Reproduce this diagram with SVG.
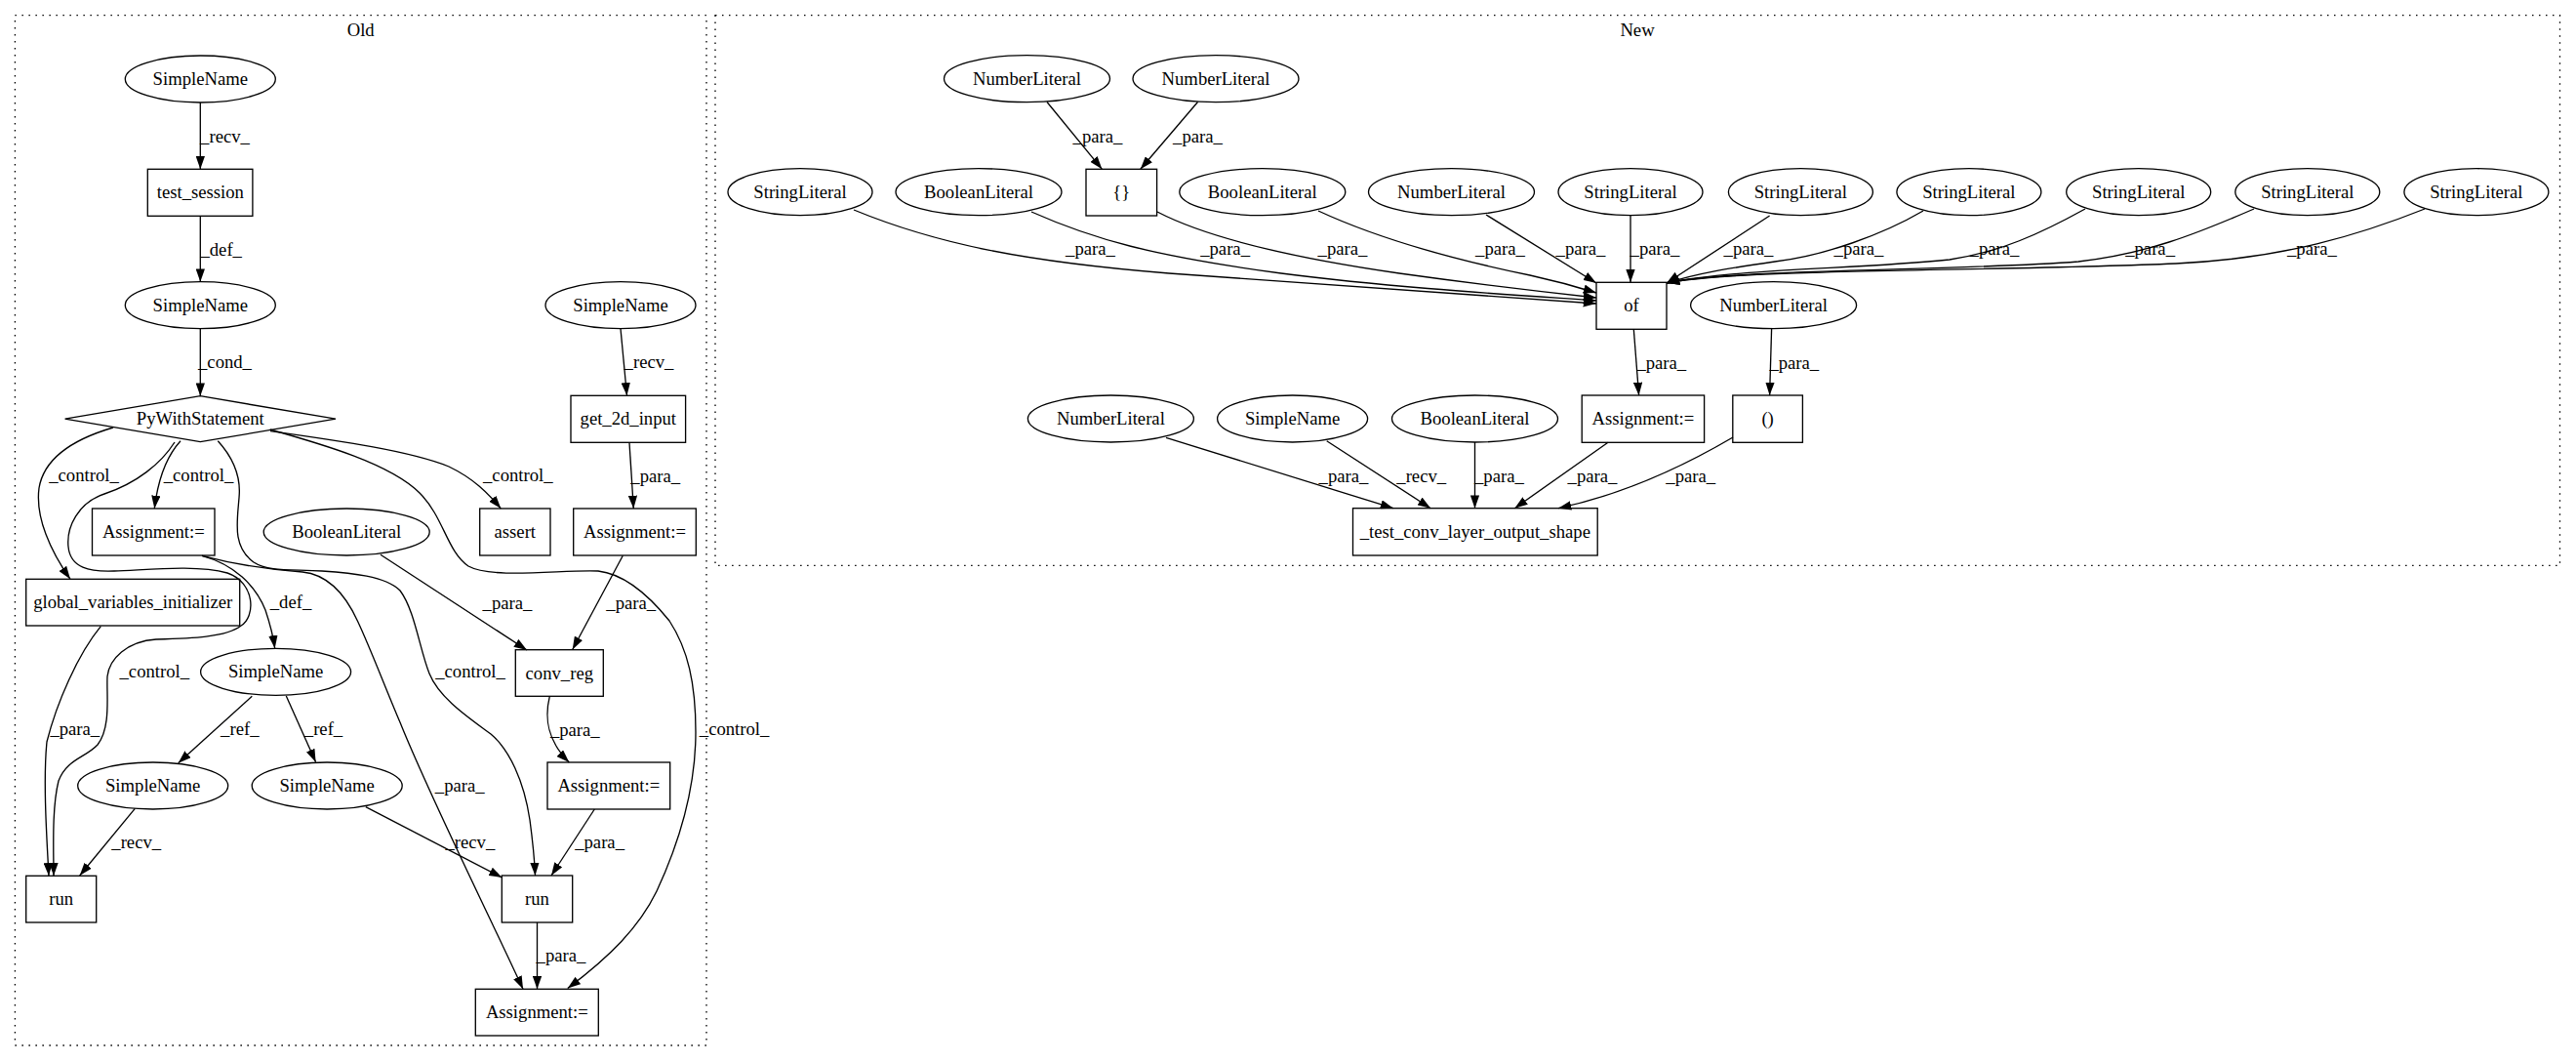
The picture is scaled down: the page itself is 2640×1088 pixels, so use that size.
<svg xmlns="http://www.w3.org/2000/svg" width="2640" height="1088" viewBox="0 0 2640 1088">
<defs>
<marker id="ah" viewBox="0 0 10 7" refX="10" refY="3.5" markerWidth="13.3" markerHeight="9.3" markerUnits="userSpaceOnUse" orient="auto">
<path d="M0,0 L10,3.5 L0,7 z" fill="#000"/>
</marker>
<style>
text{font-family:"Liberation Serif","Times New Roman",serif;font-size:18.67px;fill:#000;text-anchor:middle}
.n ellipse,.n rect,.n polygon{fill:none;stroke:#000;stroke-width:1.33}
.cl{fill:none;stroke:#000;stroke-width:1.33;stroke-dasharray:1.5,5.5}
#edges path{fill:none;stroke:#000;stroke-width:1.33;marker-end:url(#ah)}
</style>
</defs>
<rect width="2640" height="1088" fill="#fff"/>
<g id="cluster_old">
<rect class="cl" x="15.4" y="15.7" width="708.6" height="1055.3"/>
<text x="369.7" y="37">Old</text>
</g>
<g id="cluster_new">
<rect class="cl" x="733" y="15.7" width="1890.5" height="563.6"/>
<text x="1678" y="37">New</text>
</g>
<g id="edges">
<path d="M205.3,105 L205.3,173.3"/><text x="230.5" y="146">_recv_</text>
<path d="M205.3,221.3 L205.3,288.7"/><text x="226.7" y="262">_def_</text>
<path d="M205.3,336.7 L205.3,405.7"/><text x="230.5" y="376.7">_cond_</text>
<path d="M636,336.7 L642.5,405.3"/><text x="665" y="376.7">_recv_</text>
<path d="M645,453.3 L649.3,521"/><text x="671.7" y="494.3">_para_</text>
<path d="M116,438 C75,450 45,470 40,500 C36,530 52,565 72,593.3"/><text x="86" y="492.7">_control_</text>
<path d="M185,451.7 C172,466 162,490 158.3,521"/><text x="203.5" y="492.7">_control_</text>
<path d="M277,441.7 C350,452 420,462 460,478 C485,490 500,505 513.3,521"/><text x="530.8" y="492.7">_control_</text>
<path d="M179,453 C165,475 140,495 107,506 C80,515 68,540 70,560 C72,582 92,586 117,585 C150,584 200,578 233,587 C262,597 262,632 247,641 C232,653 195,654 160,655 C130,657 112,675 110,693 C109,712 114,745 100,763 C88,776 68,778 60,800 C53,828 55,870 55,897.3"/><text x="158.3" y="694.3">_control_</text>
<path d="M223.3,451.7 C240,470 247,490 245,510 C243,535 238,560 260,576 C275,586 300,583 330,585 C360,587 395,590 410,605 C425,625 430,665 440,690 C450,715 480,735 503,752 C522,768 537,800 543,840 C547,870 548,885 548.5,897"/><text x="482" y="694.3">_control_</text>
<path d="M276.7,440 C330,455 400,475 430,505 C455,530 458,565 480,580 C505,594 580,583 613,585 C640,588 665,610 686,636 C705,665 713,700 713,750 C713,800 700,855 673,913 C655,950 625,980 581.7,1012.5"/><text x="752.6" y="753.3">_control_</text>
<path d="M207,569.3 C240,578 262,600 272,625 C277,640 280,652 281.7,664.3"/><text x="298" y="622.7">_def_</text>
<path d="M207,569.3 C240,578 280,584 310,586 C330,588 350,600 366.7,636.7 C380,665 395,705 410,740 C440,815 500,935 536,1013.3"/><text x="471.2" y="811">_para_</text>
<path d="M390,568.3 L540,666"/><text x="520" y="624.3">_para_</text>
<path d="M638.3,569.3 L586.7,665.5"/><text x="646.7" y="624.3">_para_</text>
<path d="M103.3,641.7 C80,670 58,720 48,760 C44,800 48,860 50,897.3"/><text x="76.8" y="753.3">_para_</text>
<path d="M258.3,713.3 L182.7,781.7"/><text x="245.8" y="753.3">_ref_</text>
<path d="M293.3,713 L323.6,780.7"/><text x="331.5" y="753.3">_ref_</text>
<path d="M563.3,713.3 C558,735 560,758 583.3,781"/><text x="589.3" y="754.3">_para_</text>
<path d="M138.3,828.3 L81.7,897"/><text x="139.7" y="869.3">_recv_</text>
<path d="M374.8,826.7 L514.5,899"/><text x="481.9" y="869.3">_recv_</text>
<path d="M609.3,829 L565,897"/><text x="614.6" y="869.3">_para_</text>
<path d="M550.5,945 L550.5,1013.3"/><text x="575" y="985.3">_para_</text>
<path d="M1073,104.5 L1129.4,173.3"/><text x="1125" y="146">_para_</text>
<path d="M1227.5,104.5 L1168.8,173.3"/><text x="1227.5" y="146">_para_</text>
<path d="M875,215 C960,250 1050,268 1198,280 C1350,292 1500,300 1636,311"/><text x="1117.5" y="261">_para_</text>
<path d="M1057,217 C1120,245 1180,262 1313,280 C1430,295 1550,302 1636,308"/><text x="1255.6" y="261">_para_</text>
<path d="M1186,217 C1240,245 1330,265 1434,280 C1520,292 1590,300 1636,305"/><text x="1376" y="261">_para_</text>
<path d="M1351,216 C1420,248 1500,268 1568,282 C1600,289 1620,295 1636,300"/><text x="1537.5" y="261">_para_</text>
<path d="M1523,220 L1636,290"/><text x="1620" y="261">_para_</text>
<path d="M1671,220.7 L1671,289.3"/><text x="1696" y="261">_para_</text>
<path d="M1813.6,221 L1708,290"/><text x="1792" y="261">_para_</text>
<path d="M1971,216 C1930,240 1870,262 1819,268 C1770,275 1740,280 1708,290"/><text x="1905" y="261">_para_</text>
<path d="M2137,214 C2090,240 2050,258 1998,266 C1900,276 1780,275 1708,290"/><text x="2044" y="261">_para_</text>
<path d="M2310,214 C2250,240 2200,260 2130,268 C2000,278 1780,275 1708,290"/><text x="2203.6" y="261">_para_</text>
<path d="M2485,214 C2420,240 2340,265 2230,270 C2050,278 1780,275 1708,290"/><text x="2369.4" y="261">_para_</text>
<path d="M1674.3,337.3 L1679.6,405"/><text x="1702.8" y="377.7">_para_</text>
<path d="M1815.6,336.7 L1813.6,405"/><text x="1838.8" y="377.7">_para_</text>
<path d="M1195,448.3 L1428,520.7"/><text x="1377" y="493.7">_para_</text>
<path d="M1359.7,451.7 L1466.2,520.7"/><text x="1456.7" y="493.7">_recv_</text>
<path d="M1511.5,453 L1511.5,520.7"/><text x="1536.4" y="493.7">_para_</text>
<path d="M1648,453.3 L1552.3,520.7"/><text x="1632" y="493.7">_para_</text>
<path d="M1776,448 C1730,475 1670,505 1597,520.7"/><text x="1732.7" y="493.7">_para_</text>
</g>
<g id="sn_a" class="n"><ellipse cx="205.3" cy="81" rx="77" ry="24"/><text x="205.3" y="87">SimpleName</text></g>
<g id="test_session" class="n"><rect x="151.3" y="173.3" width="107.6" height="48"/><text x="205.3" y="203.3">test_session</text></g>
<g id="sn_b" class="n"><ellipse cx="205.3" cy="312.7" rx="77" ry="24"/><text x="205.3" y="318.7">SimpleName</text></g>
<g id="sn_c" class="n"><ellipse cx="636" cy="312.7" rx="77" ry="24"/><text x="636" y="318.7">SimpleName</text></g>
<g id="pywith" class="n"><polygon points="205.3,405.7 344,429.2 205.3,452.7 66.6,429.2"/><text x="205.3" y="435.2">PyWithStatement</text></g>
<g id="get_2d_input" class="n"><rect x="585" y="405.3" width="117.6" height="48"/><text x="643.8" y="435.3">get_2d_input</text></g>
<g id="assign_a" class="n"><rect x="94.5" y="521" width="125.5" height="48"/><text x="157.3" y="551">Assignment:=</text></g>
<g id="bool_old" class="n"><ellipse cx="355.2" cy="545" rx="85" ry="24"/><text x="355.2" y="551">BooleanLiteral</text></g>
<g id="assert" class="n"><rect x="491.7" y="521" width="72.3" height="48"/><text x="527.8" y="551">assert</text></g>
<g id="assign_b" class="n"><rect x="587.7" y="521" width="125.6" height="48"/><text x="650.5" y="551">Assignment:=</text></g>
<g id="gvi" class="n"><rect x="26.7" y="593.3" width="219" height="47.7"/><text x="136.2" y="623.2">global_variables_initializer</text></g>
<g id="sn_d" class="n"><ellipse cx="282.6" cy="688.3" rx="77" ry="24"/><text x="282.6" y="694.3">SimpleName</text></g>
<g id="conv_reg" class="n"><rect x="528.3" y="665.7" width="90" height="47.6"/><text x="573.3" y="695.5">conv_reg</text></g>
<g id="sn_e" class="n"><ellipse cx="156.7" cy="805" rx="77" ry="24"/><text x="156.7" y="811">SimpleName</text></g>
<g id="sn_f" class="n"><ellipse cx="335.2" cy="805" rx="77" ry="24"/><text x="335.2" y="811">SimpleName</text></g>
<g id="assign_c" class="n"><rect x="561" y="781" width="125.7" height="48"/><text x="623.8" y="811">Assignment:=</text></g>
<g id="run_l" class="n"><rect x="26.7" y="897.3" width="72" height="47.7"/><text x="62.7" y="927.2">run</text></g>
<g id="run_r" class="n"><rect x="514.3" y="897" width="72.4" height="48"/><text x="550.5" y="927">run</text></g>
<g id="assign_d" class="n"><rect x="487.3" y="1013.3" width="126" height="47.7"/><text x="550.3" y="1043.2">Assignment:=</text></g>
<g id="nl_a" class="n"><ellipse cx="1052.5" cy="80.7" rx="85" ry="24"/><text x="1052.5" y="86.7">NumberLiteral</text></g>
<g id="nl_b" class="n"><ellipse cx="1246" cy="80.7" rx="85" ry="24"/><text x="1246" y="86.7">NumberLiteral</text></g>
<g id="sl_1" class="n"><ellipse cx="820" cy="196.7" rx="74" ry="24"/><text x="820" y="202.7">StringLiteral</text></g>
<g id="bl_1" class="n"><ellipse cx="1003" cy="196.7" rx="85" ry="24"/><text x="1003" y="202.7">BooleanLiteral</text></g>
<g id="braces" class="n"><rect x="1113" y="173.3" width="72.6" height="47.7"/><text x="1149.3" y="203.2">{}</text></g>
<g id="bl_2" class="n"><ellipse cx="1293.8" cy="196.7" rx="85" ry="24"/><text x="1293.8" y="202.7">BooleanLiteral</text></g>
<g id="nl_c" class="n"><ellipse cx="1487.5" cy="196.7" rx="85" ry="24"/><text x="1487.5" y="202.7">NumberLiteral</text></g>
<g id="sl_2" class="n"><ellipse cx="1671" cy="196.7" rx="74" ry="24"/><text x="1671" y="202.7">StringLiteral</text></g>
<g id="sl_3" class="n"><ellipse cx="1845.4" cy="196.7" rx="74" ry="24"/><text x="1845.4" y="202.7">StringLiteral</text></g>
<g id="sl_4" class="n"><ellipse cx="2017.9" cy="196.7" rx="74" ry="24"/><text x="2017.9" y="202.7">StringLiteral</text></g>
<g id="sl_5" class="n"><ellipse cx="2191.7" cy="196.7" rx="74" ry="24"/><text x="2191.7" y="202.7">StringLiteral</text></g>
<g id="sl_6" class="n"><ellipse cx="2364.8" cy="196.7" rx="74" ry="24"/><text x="2364.8" y="202.7">StringLiteral</text></g>
<g id="sl_7" class="n"><ellipse cx="2537.9" cy="196.7" rx="74" ry="24"/><text x="2537.9" y="202.7">StringLiteral</text></g>
<g id="of" class="n"><rect x="1636" y="289.3" width="72" height="48"/><text x="1672" y="319.3">of</text></g>
<g id="nl_d" class="n"><ellipse cx="1817.6" cy="312.7" rx="85" ry="24"/><text x="1817.6" y="318.7">NumberLiteral</text></g>
<g id="assign_e" class="n"><rect x="1621.2" y="405" width="125.4" height="48.3"/><text x="1683.9" y="435.2">Assignment:=</text></g>
<g id="parens" class="n"><rect x="1775.8" y="405" width="71.6" height="48.3"/><text x="1811.6" y="435.2">()</text></g>
<g id="nl_e" class="n"><ellipse cx="1138.4" cy="429" rx="85" ry="24"/><text x="1138.4" y="435">NumberLiteral</text></g>
<g id="sn_g" class="n"><ellipse cx="1324.6" cy="429" rx="77" ry="24"/><text x="1324.6" y="435">SimpleName</text></g>
<g id="bl_3" class="n"><ellipse cx="1511.5" cy="429" rx="85" ry="24"/><text x="1511.5" y="435">BooleanLiteral</text></g>
<g id="test_conv" class="n"><rect x="1386.5" y="520.7" width="250.7" height="48.3"/><text x="1511.8" y="550.9">_test_conv_layer_output_shape</text></g>
</svg>
